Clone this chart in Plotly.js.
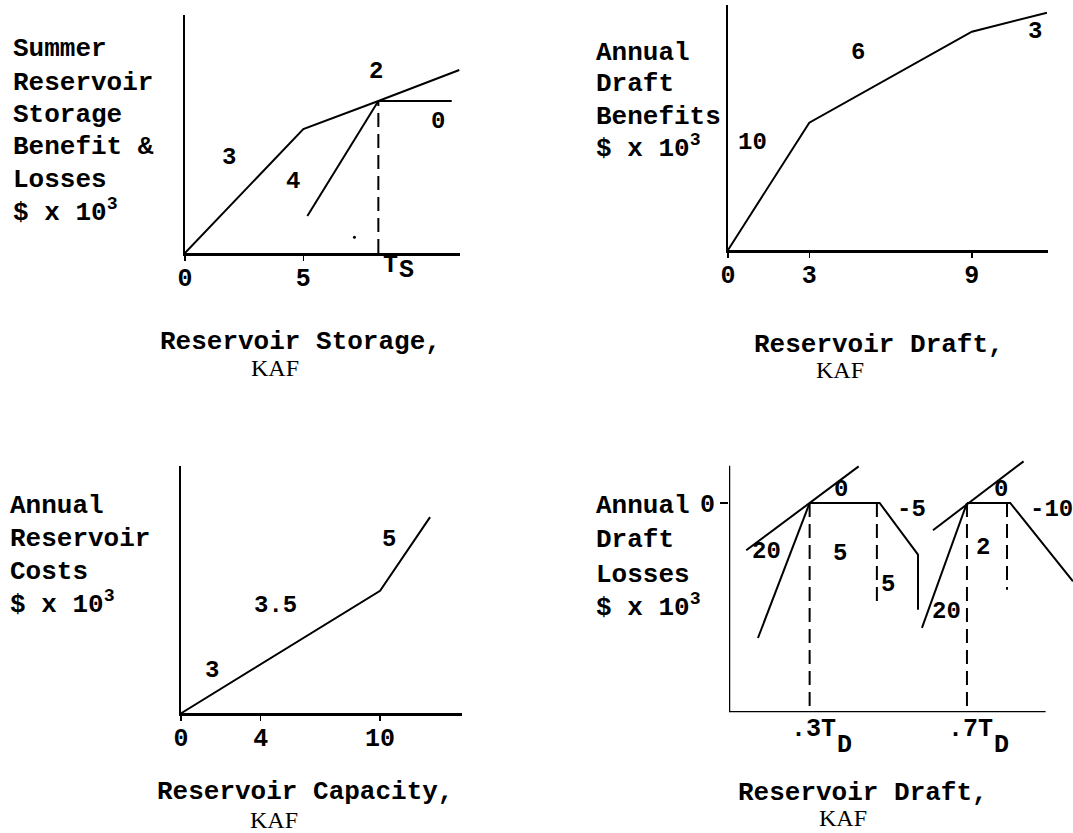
<!DOCTYPE html>
<html><head><meta charset="utf-8">
<script src="https://cdn.plot.ly/plotly-3.0.1.min.js"></script>
<style>html,body{margin:0;padding:0;background:#fff}</style>
</head><body><div id="chart" style="width:1073px;height:833px"></div>
<script>
// ---------------- DATA ----------------
// Panel A: Summer reservoir storage benefit & losses vs reservoir storage (KAF)
const storageX = [0, 5, 8.17, 11.59];
const storageBenefit = [0, 15, 18.39, 22.14];
const storageFlatX = [8.17, 11.27];
const storageFlatY = [18.39, 18.39];
const storageLossX = [5.17, 8.17];
const storageLossY = [4.48, 18.39];
const storageTsX = [8.17, 8.17];
const storageTsY = [0, 18.39];
const storageDotX = [7.16];
const storageDotY = [1.9];
const storageTicks = [0, 5];
const storageTickText = ['0', '5'];
const storageSlopes = ['3', '4', '2', '0'];

// Panel B: Annual draft benefits vs reservoir draft (KAF)
const draftX = [0, 3, 9, 11.77];
const draftBenefit = [0, 30, 51.45, 55.93];
const draftTicks = [0, 3, 9];
const draftTickText = ['0', '3', '9'];
const draftSlopes = ['10', '6', '3'];

// Panel C: Annual reservoir costs vs reservoir capacity (KAF)
const capacityX = [0, 4, 10, 12.51];
const capacityCost = [0, 12, 30, 48];
const capacityTicks = [0, 4, 10];
const capacityTickText = ['0', '4', '10'];
const capacitySlopes = ['3', '3.5', '5'];

// Panel D: Annual draft losses vs reservoir draft (fraction of T_D)
const lossTangent1X = [0.1388, 0.4247];
const lossTangent1Y = [-2.26, 1.75];
const lossSteep1X = [0.1686, 0.3];
const lossSteep1Y = [-6.45, 0];
const lossTrap1X = [0.3, 0.478, 0.5755, 0.5755];
const lossTrap1Y = [0, 0, -2.47, -5.10];
const lossDash1aX = [0.3, 0.3];
const lossDash1aY = [0, -10];
const lossDash1bX = [0.471, 0.471];
const lossDash1bY = [0, -5.02];
const lossTangent2X = [0.6136, 0.844];
const lossTangent2Y = [-1.3, 1.99];
const lossSteep2X = [0.5856, 0.7];
const lossSteep2Y = [-5.97, 0];
const lossTrap2X = [0.7, 0.810, 0.9696];
const lossTrap2Y = [0, 0, -3.74];
const lossDash2aX = [0.7, 0.7];
const lossDash2aY = [0, -10];
const lossDash2bX = [0.8018, 0.8018];
const lossDash2bY = [0, -4.14];
const lossTicks = [0.3, 0.7];
const lossTickMain = ['.3T', '.7T'];
const lossTickSub = ['D', 'D'];
const lossYTicks = [0];
const lossYTickText = ['0'];
const lossSlopes = ['0', '-5', '20', '5', '5', '0', '-10', '2', '20'];

// ---------------- STYLE / LAYOUT ----------------
const W = 1073, H = 833;
const px = v => v / W;
const py = v => 1 - v / H;
const MONO = '"Liberation Mono", "Courier New", monospace';
const SERIF = '"Liberation Serif", "Times New Roman", serif';
const INK = '#000';
const solid = {color: INK, width: 2};
const dashed = {color: INK, width: 2, dash: '14px,7px'};

function ln(x, y, ax, line) {
  return {type: 'scatter', mode: 'lines', x: x, y: y, xaxis: 'x' + ax, yaxis: 'y' + ax,
          line: line || solid, hoverinfo: 'skip', showlegend: false};
}
const traces = [
  ln(storageX, storageBenefit, ''),
  ln(storageFlatX, storageFlatY, ''),
  ln(storageLossX, storageLossY, ''),
  ln(storageTsX, storageTsY, '', dashed),
  {type: 'scatter', mode: 'markers', x: storageDotX, y: storageDotY, xaxis: 'x', yaxis: 'y',
   marker: {color: INK, size: 3}, hoverinfo: 'skip', showlegend: false},
  ln(draftX, draftBenefit, '2'),
  ln(capacityX, capacityCost, '3'),
  ln(lossTangent1X, lossTangent1Y, '4'),
  ln(lossSteep1X, lossSteep1Y, '4'),
  ln(lossTrap1X, lossTrap1Y, '4'),
  ln(lossDash1aX, lossDash1aY, '4', dashed),
  ln(lossDash1bX, lossDash1bY, '4', dashed),
  ln(lossTangent2X, lossTangent2Y, '4'),
  ln(lossSteep2X, lossSteep2Y, '4'),
  ln(lossTrap2X, lossTrap2Y, '4'),
  ln(lossDash2aX, lossDash2aY, '4', dashed),
  ln(lossDash2bX, lossDash2bY, '4', dashed)
];

const tickFont = {family: MONO, size: 25, color: INK, weight: 'bold'};
function xax(domain, range, tv, tt, extra) {
  return Object.assign({domain: domain, range: range, showline: true, linewidth: 2.5, linecolor: INK,
    showgrid: false, zeroline: false, tickvals: tv, ticktext: tt, ticks: 'outside', ticklen: 5,
    tickwidth: 1.5, tickcolor: INK, tickfont: tickFont, ticklabelstandoff: -5, fixedrange: true}, extra || {});
}
function yax(domain, range, anchor, extra) {
  return Object.assign({domain: domain, range: range, anchor: anchor, showline: true, linewidth: 2.5,
    linecolor: INK, showgrid: false, zeroline: false, showticklabels: false, ticks: '',
    fixedrange: true}, extra || {});
}

const annotations = [];
const numFont = {family: MONO, size: 24, color: INK, weight: 'bold'};
function lab(text, x, y, ax, opts) {
  annotations.push(Object.assign({text: text, x: x, y: y, xref: 'x' + ax, yref: 'y' + ax,
    showarrow: false, font: numFont}, opts || {}));
}
// slope labels
lab(storageSlopes[0], 1.86, 11.6, '');
lab(storageSlopes[1], 4.56, 8.6, '');
lab(storageSlopes[2], 8.07, 21.9, '');
lab(storageSlopes[3], 10.69, 15.85, '');
lab('T', storageTsX[0], 0, '', {xshift: 12, yshift: -12.5, font: tickFont});
lab('S', storageTsX[0], 0, '', {xshift: 28, yshift: -17.5, font: tickFont});
lab(draftSlopes[0], 0.92, 25.3, '2');
lab(draftSlopes[1], 4.8, 46.5, '2');
lab(draftSlopes[2], 11.32, 51.45, '2');
lab(capacitySlopes[0], 1.54, 10.4, '3');
lab(capacitySlopes[1], 4.77, 26.3, '3');
lab(capacitySlopes[2], 10.47, 42.6, '3');
lab(lossSlopes[0], 0.3804, 0.64, '4');
lab(lossSlopes[1], 0.5584, -0.32, '4');
lab(lossSlopes[2], 0.1897, -2.31, '4');
lab(lossSlopes[3], 0.3779, -2.39, '4');
lab(lossSlopes[4], 0.4992, -3.9, '4');
lab(lossSlopes[5], 0.7873, 0.64, '4');
lab(lossSlopes[6], 0.8552, -0.32, '4', {xanchor: 'left'});
lab(lossSlopes[7], 0.7408, -2.15, '4');
lab(lossSlopes[8], 0.6474, -5.17, '4');
// panel D x tick labels (T with a large, lowered D subscript)
for (let i = 0; i < lossTicks.length; i++) {
  lab(lossTickMain[i], lossTicks[i], -10, '4', {xshift: 4, yshift: -17, font: tickFont});
  lab(lossTickSub[i], lossTicks[i], -10, '4', {xshift: 35, yshift: -33, font: tickFont});
}

// axis titles (paper coordinates), one annotation per line
function ptext(text, x, y, font, xa) {
  annotations.push({text: text, x: px(x), y: py(y), xref: 'paper', yref: 'paper',
    xanchor: xa || 'center', yanchor: 'middle', align: 'left', showarrow: false, font: font});
}
const tf = {family: MONO, size: 26, color: INK, weight: 'bold'};
const sf = {family: SERIF, size: 24, color: INK};
function ytitle(lines, x, ys) {
  lines.forEach((t, i) => ptext(t, x, ys[i], tf, 'left'));
}
const sup3 = '$ x 10<sup>3</sup>';
ytitle(['Summer', 'Reservoir', 'Storage', 'Benefit &', 'Losses', sup3], 11, [49, 83, 115, 147, 180, 210.5]);
ytitle(['Annual', 'Draft', 'Benefits', sup3], 594, [52.7, 84.3, 117.3, 147.5]);
ytitle(['Annual', 'Reservoir', 'Costs', sup3], 8, [506, 539.3, 571.7, 603]);
ytitle(['Annual', 'Draft', 'Losses', sup3], 594, [506, 539.7, 574.7, 605.5]);
ptext('Reservoir Storage,', 300, 342, tf);
ptext('KAF', 275, 368, sf);
ptext('Reservoir Draft,', 879, 345, tf);
ptext('KAF', 840, 370, sf);
ptext('Reservoir Capacity,', 305, 792, tf);
ptext('KAF', 274, 820, sf);
ptext('Reservoir Draft,', 863, 793, tf);
ptext('KAF', 843, 818, sf);

const layout = {
  width: W, height: H, margin: {l: 0, r: 0, t: 0, b: 0, pad: 0},
  paper_bgcolor: '#fff', plot_bgcolor: '#fff', showlegend: false,
  xaxis: xax([px(185), px(460)], [0, 11.62], storageTicks, storageTickText, {anchor: 'y'}),
  yaxis: yax([py(253), py(15)], [0, 28.79], 'x'),
  xaxis2: xax([px(728), px(1048)], [0, 11.81], draftTicks, draftTickText, {anchor: 'y2'}),
  yaxis2: yax([py(250), py(5)], [0, 57.74], 'x2'),
  xaxis3: xax([px(181), px(461.7)], [0, 14.1], capacityTicks, capacityTickText, {anchor: 'y3'}),
  yaxis3: yax([py(713.3), py(465.7)], [0, 60.6], 'x3'),
  xaxis4: xax([px(729), 1], [0.095, 0.9696], lossTicks, ['', ''],
              {anchor: 'y4', showline: false, ticks: '', showticklabels: false}),
  yaxis4: yax([py(712.3), py(455)], [-10, 2.293], 'x4',
              {showline: false, showticklabels: true, tickvals: lossYTicks, ticktext: lossYTickText,
               ticks: 'outside', ticklen: 8, tickwidth: 1.5, tickcolor: INK, tickfont: tickFont}),
  shapes: [
    {type: 'line', xref: 'x4', yref: 'y4', x0: 0.095, x1: 0.9, y0: -10, y1: -10,
     line: {color: INK, width: 2.5}},
    {type: 'line', xref: 'x4', yref: 'y4', x0: 0.095, x1: 0.095, y0: -10, y1: 1.78,
     line: {color: INK, width: 2.5}}
  ],
  annotations: annotations
};
Plotly.newPlot('chart', traces, layout, {staticPlot: true, displayModeBar: false});
</script></body></html>
